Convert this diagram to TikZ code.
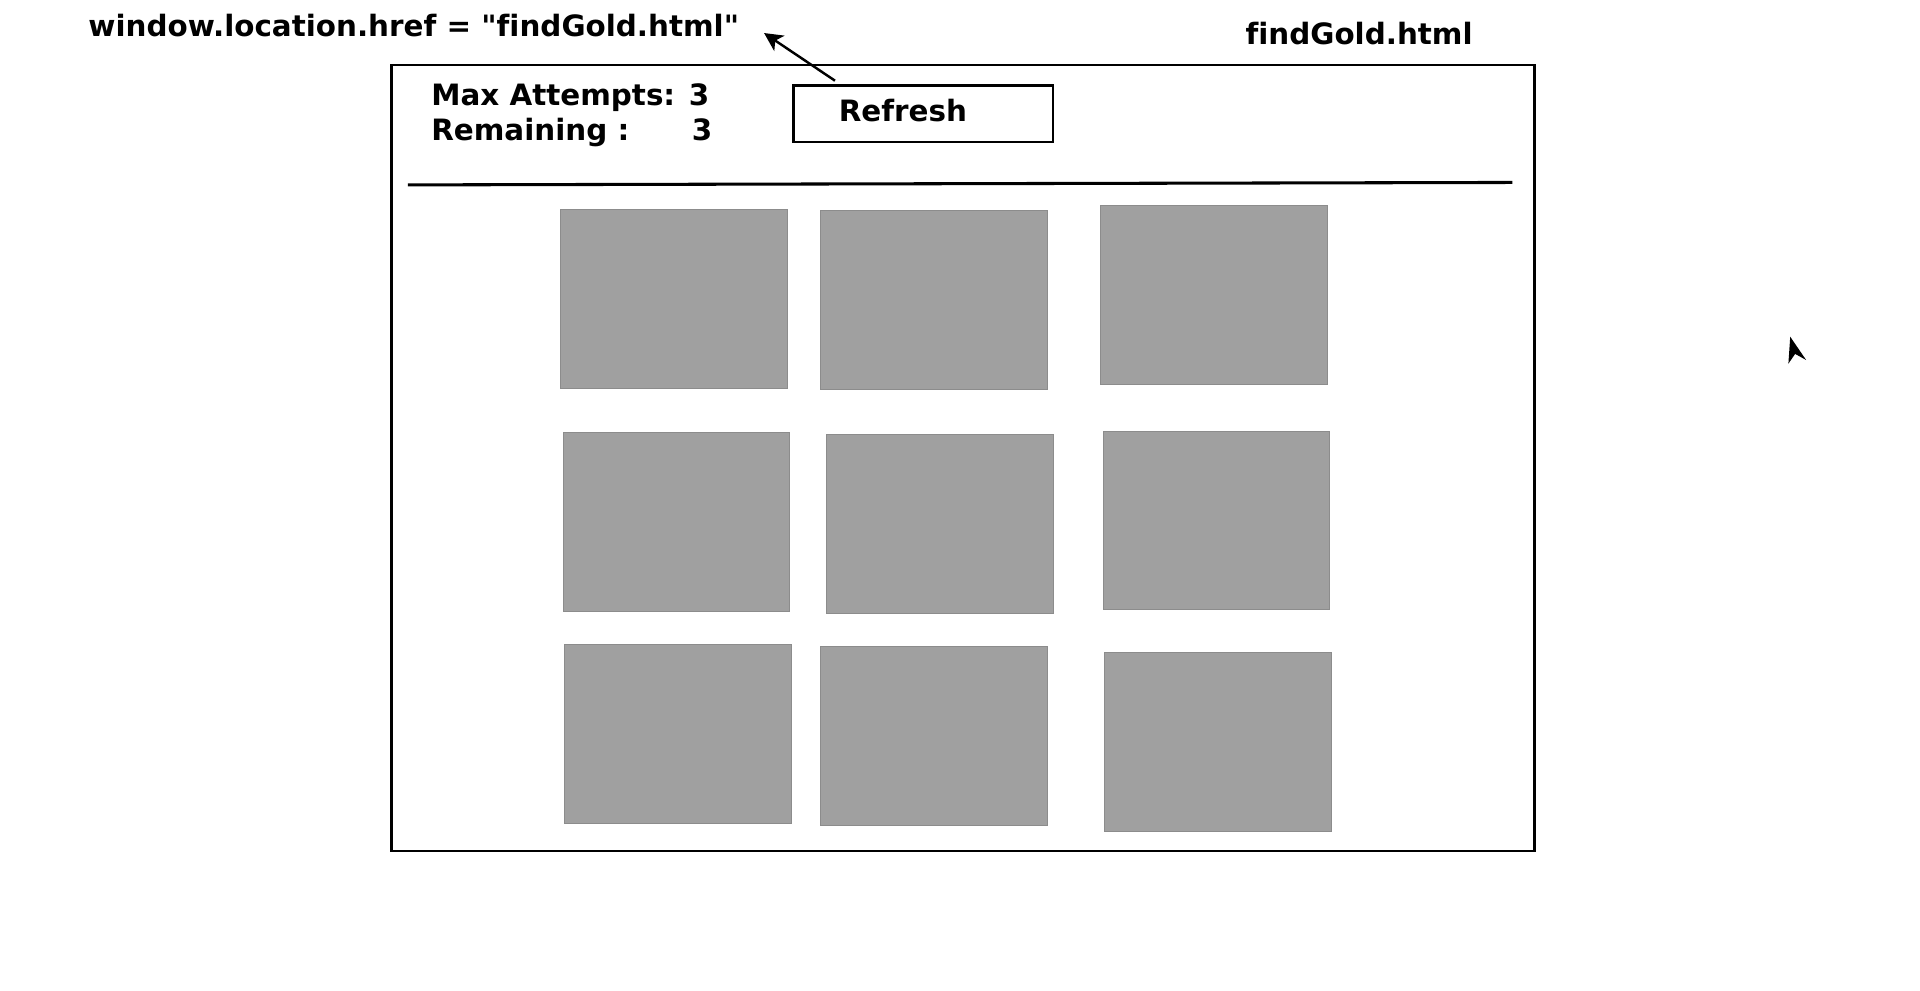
\documentclass[tikz,border=0pt]{standalone}
\usepackage{fontspec}
\setmainfont{DejaVu Sans}[Ligatures={TeXOff,NoCommon}]
\usetikzlibrary{arrows.meta}
\definecolor{tilegray}{RGB}{160,160,160}
\definecolor{tileedge}{RGB}{140,140,140}
\tikzset{
	label text/.style={anchor=base west, inner sep=0pt, font=\fontsize{24}{28}\selectfont\bfseries},
	tile/.style={fill=tilegray, draw=tileedge, line width=0.6pt, minimum width=185pt, minimum height=146pt, inner sep=0pt},
	button/.style={draw, line width=2.2pt, text width=138pt, align=left, inner xsep=37pt, inner ysep=0pt,
		minimum height=46pt, text height=18pt, text depth=5pt, font=\fontsize{24}{28}\selectfont\bfseries}
}
\begin{document}
\begin{tikzpicture}[x=1pt, y=-1pt]
		\useasboundingbox (0,0) rectangle (1568,809);
		\node[label text] (href) at (72,30) {window.location.href = "findGold.html"};
		\node[label text] (title) at (1017,36) {findGold.html};
		\draw[line width=2.2pt] (320,53) rectangle (1253,695);
		\node[label text] (maxtry) at (352,86) {Max Attempts: 3};
		\node[label text] (remain) at (352,115) {Remaining :\hspace{51pt}3};
		\node[button] (refresh) at (754,93) {Refresh};
		\coordinate (hreftip) at (624,27);
		\draw[line width=2pt, -{Stealth[length=15pt, width=15pt, inset=4pt]}] ([xshift=35pt, yshift=3pt]refresh.north west) -- (hreftip);
		\draw[line width=2.5pt] (333,151) -- (1235,149);
		\node[tile] (tile11) at (550.5,244) {};
		\node[tile] (tile12) at (762.5,245) {};
		\node[tile] (tile13) at (991.5,241) {};
		\node[tile] (tile21) at (552.5,426) {};
		\node[tile] (tile22) at (767.5,428) {};
		\node[tile] (tile23) at (993.5,425) {};
		\node[tile] (tile31) at (553.5,599) {};
		\node[tile] (tile32) at (762.5,601) {};
		\node[tile] (tile33) at (994.5,606) {};
		\fill (1462,275) -- (1475,294) -- (1466,289) -- (1460.5,297) -- cycle;
	\end{tikzpicture}
\end{document}
